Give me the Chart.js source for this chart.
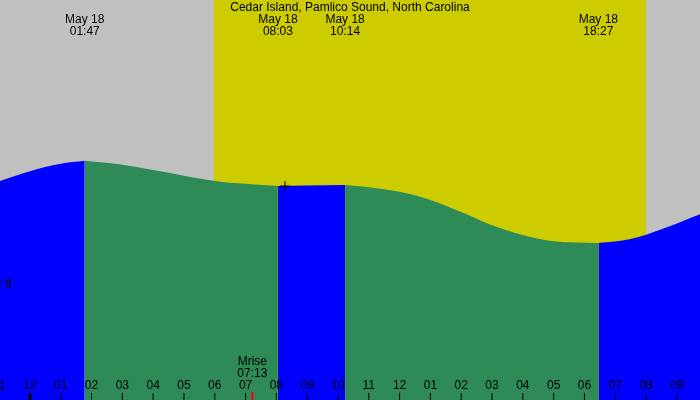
<!DOCTYPE html>
<html><head><meta charset="utf-8">
<script src="https://cdn.jsdelivr.net/npm/chart.js@4"></script>
<style>html,body{margin:0;padding:0;background:#c0c0c0}#wrap{width:700px;height:400px}</style>
</head><body><div id="wrap"><canvas id="c"></canvas></div>
<script>
const title = "Cedar Island, Pamlico Sound, North Carolina";
// hours since midnight May 18, tide height in ft
const tideHours = [-0.97, 0, 1, 1.78, 3, 4, 5, 6, 7, 8.05, 9, 10.23, 11, 12, 13, 14, 15, 16, 17, 18.45, 19.5, 20.5, 21.75];
const tideFt = [3.81, 3.98, 4.11, 4.16, 4.09, 4.0, 3.9, 3.81, 3.76, 3.72, 3.73, 3.74, 3.7, 3.62, 3.48, 3.27, 3.04, 2.87, 2.76, 2.73, 2.8, 2.97, 3.23];
const extremes = [{h: 1.78, t: "01:47"}, {h: 8.05, t: "08:03"}, {h: 10.23, t: "10:14"}, {h: 18.45, t: "18:27"}];
const daylight = [5.97, 20.0];
const moonrise = {h: 7.22, t: "07:13"};
const nowMark = {h: 8.28, ft: 3.72};
const xMin = -0.97, xMax = 21.75;

// split curve into rising (blue) / falling (green) segments at extremes
const cuts = [xMin, ...extremes.map(e => e.h), xMax];
const datasets = [];
for (let i = 0; i < cuts.length - 1; i++) {
  const pts = tideHours.map((h, j) => ({x: h, y: tideFt[j]})).filter(p => p.x >= cuts[i] && p.x <= cuts[i + 1]);
  const col = i % 2 === 0 ? "#0000ff" : "#2e8b57";
  datasets.push({data: pts, borderWidth: 0, pointRadius: 0, fill: "origin", backgroundColor: col, borderColor: col, cubicInterpolationMode: "monotone"});
}

const bg = {
  id: "bg",
  beforeDatasetsDraw(chart) {
    const {ctx, scales: {x}} = chart;
    ctx.save();
    ctx.fillStyle = "#c0c0c0"; ctx.fillRect(0, 0, 700, 400);
    ctx.fillStyle = "#cccc00";
    ctx.fillRect(x.getPixelForValue(daylight[0]), 0, x.getPixelForValue(daylight[1]) - x.getPixelForValue(daylight[0]), 400);
    ctx.restore();
  },
  afterDatasetsDraw(chart) {
    const {ctx, scales: {x, y}} = chart;
    ctx.save();
    ctx.font = "12px 'Liberation Sans', Arial";
    ctx.fillStyle = "#000"; ctx.textAlign = "center"; ctx.textBaseline = "middle";
    ctx.fillText(title, 350, 8);
    extremes.forEach(e => {
      const px = x.getPixelForValue(e.h);
      ctx.fillText("May 18", px, 20); ctx.fillText(e.t, px, 32);
    });
    // hour ticks
    for (let h = -1; h <= 22; h++) {
      const px = x.getPixelForValue(h);
      const hh = ((h % 12) + 12) % 12;
      ctx.fillStyle = "#000";
      ctx.fillText(hh === 0 ? "12" : String(hh).padStart(2, "0"), px, 386);
      ctx.fillRect(px - 0.5, 393, 1, 7);
    }
    ctx.fillRect(x.getPixelForValue(0) - 1.5, 393, 3, 7);
    const mx = x.getPixelForValue(moonrise.h);
    ctx.fillText("Mrise", mx, 362); ctx.fillText(moonrise.t, mx, 374);
    ctx.fillStyle = "#ff0000"; ctx.fillRect(mx - 1, 392, 2, 8);
    ctx.fillStyle = "#000"; ctx.textAlign = "left";
    ctx.fillText("2 ft", -5, y.getPixelForValue(2));
    const cx = x.getPixelForValue(nowMark.h), cy = y.getPixelForValue(nowMark.ft);
    ctx.fillRect(cx - 5, cy - 0.5, 10, 1); ctx.fillRect(cx - 0.5, cy - 5, 1, 10);
    ctx.restore();
  }
};

new Chart(document.getElementById("c"), {
  type: "line",
  data: {datasets},
  options: {
    responsive: true, maintainAspectRatio: false, animation: false,
    layout: {padding: 0},
    plugins: {legend: {display: false}, tooltip: {enabled: false}},
    scales: {
      x: {type: "linear", min: xMin, max: xMax, display: false},
      y: {min: 0, max: 400 / 57.5, display: false}
    }
  },
  plugins: [bg]
});
</script></body></html>
